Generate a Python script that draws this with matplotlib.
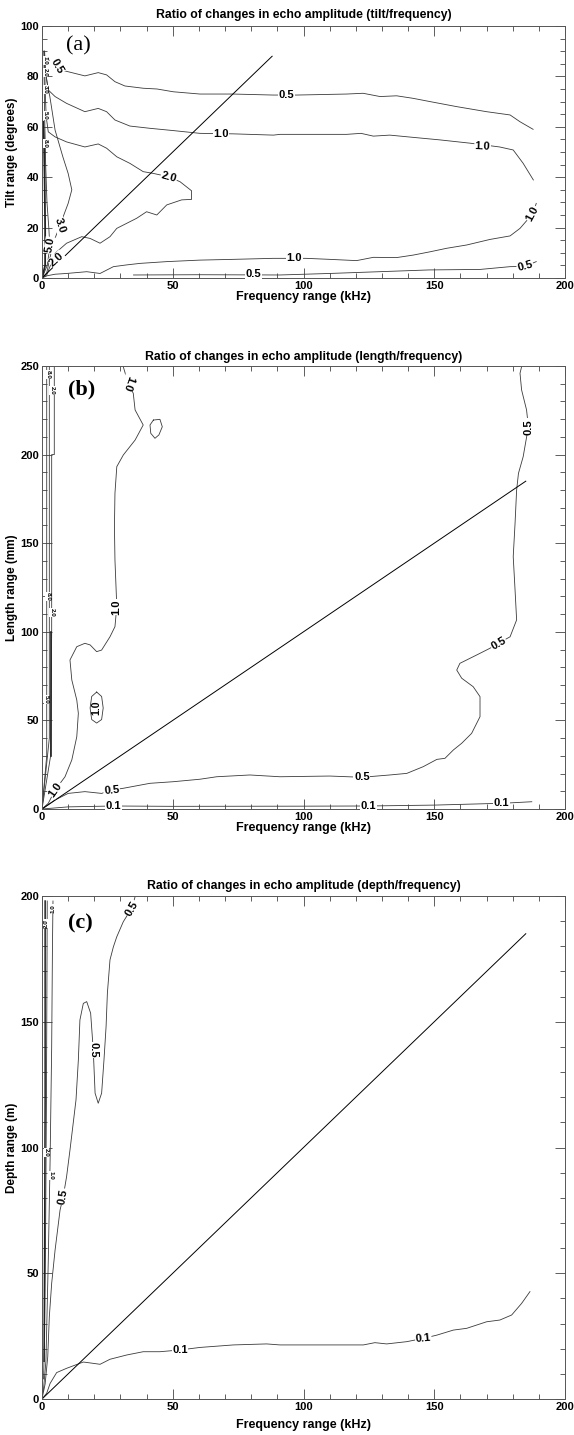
import matplotlib
matplotlib.use("Agg")
import matplotlib.pyplot as plt
from matplotlib.ticker import MultipleLocator

plt.rcParams['font.family'] = ['Liberation Sans', 'DejaVu Sans']

# ---------------- Panel (a): tilt / frequency ----------------
a_x05_up = [1.5, 3, 7.5, 16.4, 21.5, 24.7, 27.9, 31.7, 38.7, 44, 50.2, 60.4, 73.1, 88.4, 97.4, 116.5, 122.8, 129.3, 135.6, 141.9, 148.4, 158.6, 170, 179, 182.8, 187.8]
a_y05_up = [88, 86, 82.5, 80.2, 81.5, 80.6, 77.9, 76.2, 75.3, 75, 73.9, 73, 73, 72.6, 72.6, 73, 73.3, 72, 72.3, 71.3, 70, 68, 66, 64.7, 62, 59]
a_x10_up = [1.0, 1.3, 2.4, 5, 9.4, 16.4, 21.5, 24.7, 27.9, 33.6, 41.3, 50.2, 60.4, 73.2, 88.5, 91, 116.5, 122, 126.7, 133, 142, 152.2, 163.7, 175, 180.2, 184, 187.9]
a_y10_up = [90, 82, 74.6, 72, 69.3, 66, 67.3, 66, 62.7, 60.3, 59.4, 58.5, 57.4, 57.2, 56.7, 57, 57, 57.4, 56.3, 56.7, 55.8, 54.8, 53.5, 52, 50.8, 45.5, 38.9]
a_x20 = [0.9, 1.2, 1.6, 2.4, 5, 9.4, 16.4, 21.5, 24.7, 28.6, 33.6, 38.7, 42.6, 48.3, 52.8, 57.2, 57.2, 53.4, 47.7, 43.9, 40, 36.2, 32.4, 28.6, 26, 22.2, 18.4, 15.2, 9.4, 5, 1.8, 0]
a_y20 = [90, 75, 64, 58, 56, 54, 52, 53.2, 51.5, 48.1, 45.5, 42.2, 41.5, 40.2, 38.2, 34.6, 31.2, 31, 29, 25, 26.3, 23.7, 21.7, 19.7, 16.4, 13.8, 15.7, 16.4, 13.8, 9.8, 1.2, 0]
a_x30 = [0.8, 1.3, 2.2, 3, 5, 8, 10, 11.4, 10, 6.9, 4.3, 1.8, 0]
a_y30 = [90, 82, 76, 72, 58.7, 48, 41.5, 35, 29.6, 21, 13.9, 2, 0]
a_x50 = [0.7, 1.0, 1.4, 1.9, 2.6, 3.0, 2.0, 0]
a_y50 = [90, 65, 45, 30, 20, 12.4, 5, 0]
a_x80 = [0.5, 0.8, 1.0, 1.2, 1.2, 0]
a_y80 = [62, 53, 40, 20, 5, 0]
a_x10_lo = [0, 2, 5, 9.4, 17.1, 22.2, 27.3, 32.4, 37.5, 47.7, 60.4, 73.2, 88.5, 96, 101, 110, 120.3, 126.7, 135.6, 142, 148.4, 154.8, 162.4, 171.3, 179, 182.8, 187.8, 189]
a_y10_lo = [0, 0.9, 1.5, 1.8, 2.5, 1.8, 4.5, 5.2, 5.8, 6.5, 7.1, 7.4, 7.8, 7.8, 7.8, 7.4, 6.9, 8.2, 8.1, 9.1, 10.4, 11.8, 13.1, 15.3, 16.7, 19.7, 25.7, 29.6]
a_x05_lo = [35, 60, 91, 110, 129, 148, 167.5, 179, 184.7, 189]
a_y05_lo = [1.2, 1.3, 1.2, 1.8, 2.5, 3.2, 3.4, 4.5, 4.6, 6.5]
a_diag = [0, 88]

# ---------------- Panel (b): length / frequency ----------------
b_x10 = [31.1, 33, 34.9, 35.6, 38.7, 35.6, 31.1, 28.6, 27.9, 27.7, 27.9, 28.6, 27.9, 26, 22.8, 20.9, 18.4, 16.4, 13.3, 10.7, 11.4, 13.3, 13.9, 13.3, 11.4, 8.8, 5, 2.4, 0]
b_y10 = [249.5, 240, 234.6, 225.2, 216.7, 208.2, 199.8, 193.2, 178.2, 159.3, 140.5, 114.2, 102.9, 97.2, 89.7, 88.8, 92.6, 93.5, 91.6, 84.1, 72.8, 61.5, 54, 40.8, 27.7, 18.2, 10.7, 3.2, 0]
b_x10_loopA = [42.6, 45.1, 46, 44.7, 43.2, 41.6, 41.3, 42.6]
b_y10_loopA = [219.5, 219.9, 215.7, 211.1, 209.2, 212, 216.7, 219.5]
b_x10_loopB = [20.9, 22.8, 23.4, 22.8, 20.9, 19.0, 18.4, 19.0, 20.9]
b_y10_loopB = [66.0, 63.5, 57, 50.5, 48.5, 50.5, 57, 63.5, 66.0]
b_x05 = [0, 5, 10, 16.4, 22.8, 26.6, 31.1, 41.3, 50.2, 60.4, 66.8, 79.5, 91, 110, 122.3, 133, 139.5, 145.8, 151, 154.1, 157.3, 160.5, 164.3, 167.5, 167.5, 164.9, 160.5, 158.6, 159.8, 166.2, 171.3, 174.5, 179, 181.5, 180.9, 180.2, 180.9, 181.5, 182.2, 184, 186, 185.3, 183.4, 182.8, 183.4]
b_y05 = [0, 5.1, 8.8, 9.8, 8.8, 10.7, 11.7, 14.5, 15.4, 16.8, 18.2, 19.2, 18.2, 18.6, 17.9, 19.2, 20.1, 23.9, 28, 28.6, 33.3, 37.1, 42.7, 52.1, 63.4, 69, 73.8, 78.4, 82.2, 86.9, 90.7, 93.5, 97.2, 106.7, 123.6, 142.4, 161.2, 180, 189.4, 198.8, 215.7, 225.2, 236.5, 245.9, 249.6]
b_x01 = [0, 10, 27.3, 50, 100, 124.8, 150, 170, 175.8, 187.3]
b_y01 = [0, 1.2, 1.7, 1.5, 1.6, 1.7, 2.2, 3.0, 3.2, 4.1]
b_xedge1 = [0, 1.8, 1.8, 1.8]
b_yedge1 = [0, 30, 150, 250]
b_xedge2 = [0, 2.8, 2.8, 2.8]
b_yedge2 = [0, 40, 150, 250]
b_xedge3 = [0, 3.3, 3.7, 3.7, 4.7, 4.7]
b_yedge3 = [0, 30, 100, 200, 200, 250]
b_diag = [0, 185]

# ---------------- Panel (c): depth / frequency ----------------
c_x05 = [35.6, 34.3, 31.1, 28.6, 27.3, 26, 25, 24.5, 23.7, 22.8, 21.5, 20.3, 19.6, 18.6, 17.1, 15.8, 14.5, 13.9, 13, 10.7, 9.4, 8.1, 6.9, 5, 3.7, 2.8, 2.2, 1.2, 0]
c_y05 = [199.7, 195.1, 189.8, 183.8, 179.8, 174.6, 161.3, 148, 134.8, 121.6, 117.6, 121.6, 138.8, 153.4, 158, 157.3, 150.7, 134.8, 118.9, 99, 88.4, 80.4, 75.1, 59.2, 46, 32.7, 16.8, 6, 0]
c_x01 = [0, 1.8, 3.1, 5.6, 9.4, 15.8, 18, 22.2, 26, 32.4, 38.7, 45.1, 52.8, 60.4, 73.2, 85.9, 91, 110, 122.9, 127.3, 131.8, 139.5, 145.8, 151, 157.3, 162.4, 170, 175.1, 179.6, 183.4, 186.6]
c_y01 = [0, 2.3, 6.2, 10.5, 12.2, 14.7, 14.4, 13.8, 15.8, 17.5, 18.8, 18.8, 19.5, 20.5, 21.5, 21.9, 21.5, 21.5, 21.5, 22.4, 21.9, 22.8, 24.1, 25.4, 27.4, 28.1, 30.7, 31.4, 33.4, 38, 42.7]
c_x10 = [4.2, 4.0, 3.7, 3.1, 2.4, 1.5, 0.5]
c_y10 = [198, 180, 140, 95, 55, 15, 3]
c_x20 = [2.0, 1.9, 1.7, 1.4, 1.0, 0.6]
c_y20 = [198, 170, 120, 70, 25, 8]
c_x30 = [1.2, 1.2, 1.0, 0.8]
c_y30 = [198, 120, 60, 15]
c_diag = [0, 185]

# ---------------- figure ----------------
fig = plt.figure(figsize=(5.74, 14.35), dpi=100)
LC = '#3a3a3a'
LW = 0.6
lab_kw = dict(fontsize=8, fontweight='bold', ha='center', va='center',
              bbox=dict(boxstyle='square,pad=0.05', fc='white', ec='none'), zorder=5)
small_kw = dict(fontsize=4.5, fontweight='bold', ha='center', va='center',
                bbox=dict(boxstyle='square,pad=0.02', fc='white', ec='none'), zorder=5)


def style(ax, xlim, ylim, ymaj, ymin, ylabel, title, tpad):
    ax.set_xlim(*xlim)
    ax.set_ylim(*ylim)
    ax.xaxis.set_major_locator(MultipleLocator(50))
    ax.xaxis.set_minor_locator(MultipleLocator(10))
    ax.yaxis.set_major_locator(MultipleLocator(ymaj))
    ax.yaxis.set_minor_locator(MultipleLocator(ymin))
    ax.tick_params(which='both', direction='in', top=True, right=True,
                   labelsize=8, width=0.6, color='#444', pad=2)
    ax.tick_params(which='major', length=7)
    ax.tick_params(which='minor', length=3.5)
    for lab in ax.get_xticklabels() + ax.get_yticklabels():
        lab.set_fontweight('bold')
    for s in ax.spines.values():
        s.set_linewidth(0.7)
        s.set_color('#555')
    ax.set_xlabel('Frequency range (kHz)', fontsize=9, fontweight='bold', labelpad=0)
    ax.set_ylabel(ylabel, fontsize=8.5, fontweight='bold', labelpad=2)
    ax.set_title(title, fontsize=8.8, fontweight='bold', pad=tpad)


L = 42 / 574
W = (565 - 42) / 574

# Panel a
axa = fig.add_axes([L, 1 - 278 / 1435, W, (278 - 26) / 1435])
for xs, ys in [(a_x05_up, a_y05_up), (a_x10_up, a_y10_up), (a_x20, a_y20), (a_x30, a_y30),
               (a_x50, a_y50), (a_x10_lo, a_y10_lo), (a_x05_lo, a_y05_lo)]:
    axa.plot(xs, ys, color=LC, lw=LW)
axa.plot(a_x80, a_y80, color='#222', lw=1.3)
axa.plot(a_diag, a_diag, color='black', lw=0.7)
for t, x, y, r in [('0.5', 5.8, 84.2, -60), ('0.5', 93.5, 72.6, 0), ('1.0', 68.5, 57.2, 0),
                   ('1.0', 168.5, 52.4, -3), ('2.0', 48.5, 40.0, -15), ('3.0', 6.9, 21.0, -72),
                   ('2.0', 5.6, 7.5, 42), ('5.0', 3.0, 13.0, 80), ('1.0', 96.5, 7.8, 0),
                   ('1.0', 187.5, 25.5, 62), ('0.5', 80.8, 1.4, 0), ('0.5', 184.7, 4.8, 15)]:
    axa.text(x, y, t, rotation=r, **lab_kw)
for t, y in [('1.0', 86.5), ('2.0', 81.5), ('3.0', 75), ('5.0', 64.5), ('8.0', 53.5)]:
    axa.text(1.2, y, t, rotation=-90, **small_kw)
axa.text(14.0, 92.3, '(a)', fontsize=16, family='Liberation Serif', ha='center', va='center')
style(axa, (0, 200), (0, 100), 20, 5, 'Tilt range (degrees)',
      'Ratio of changes in echo amplitude (tilt/frequency)', 6)

# Panel b
axb = fig.add_axes([L, 1 - 809 / 1435, W, (809 - 366) / 1435])
for xs, ys in [(b_x10, b_y10), (b_x10_loopA, b_y10_loopA), (b_x10_loopB, b_y10_loopB),
               (b_x05, b_y05), (b_x01, b_y01), (b_xedge1, b_yedge1), (b_xedge2, b_yedge2),
               (b_xedge3, b_yedge3)]:
    axb.plot(xs, ys, color=LC, lw=LW)
axb.plot([3.3, 3.3], [30, 100], color='#222', lw=1.2)
axb.plot(b_diag, b_diag, color='black', lw=0.7)
for t, x, y, r in [('1.0', 33.0, 240.5, -110), ('1.0', 28.4, 114.0, 90),
                   ('1.0', 5.2, 11.0, 55), ('0.5', 26.6, 10.7, 5), ('0.5', 122.3, 17.9, 0),
                   ('0.5', 174.5, 93.5, 30), ('0.5', 186.0, 215.7, 90), ('0.1', 27.3, 1.7, 0),
                   ('0.1', 124.8, 1.7, 0), ('0.1', 175.8, 3.2, 0)]:
    axb.text(x, y, t, rotation=r, **lab_kw)
axb.text(20.9, 57.0, '1.0', rotation=90, fontsize=7.5, fontweight='bold',
         ha='center', va='center', zorder=5)
for t, x, y in [('8.0', 2.3, 245), ('2.0', 3.8, 236), ('8.0', 2.3, 120), ('2.0', 3.8, 111),
                ('5.0', 1.8, 62)]:
    axb.text(x, y, t, rotation=-90, **small_kw)
axb.text(15.0, 236.5, '(b)', fontsize=16, fontweight='bold', family='Liberation Serif',
         ha='center', va='center')
style(axb, (0, 200), (0, 250), 50, 10, 'Length range (mm)',
      'Ratio of changes in echo amplitude (length/frequency)', 4)

# Panel c
axc = fig.add_axes([L, 1 - 1399 / 1435, W, (1399 - 896) / 1435])
for xs, ys in [(c_x05, c_y05), (c_x01, c_y01), (c_x10, c_y10), (c_x20, c_y20)]:
    axc.plot(xs, ys, color=LC, lw=LW)
axc.plot(c_x30, c_y30, color='#222', lw=1.1)
axc.plot(c_diag, c_diag, color='black', lw=0.7)
for t, x, y, r in [('0.5', 34.3, 195.1, 60), ('0.5', 19.6, 138.8, -90), ('0.5', 8.1, 80.4, 80),
                   ('0.1', 52.8, 19.5, 0), ('0.1', 145.8, 24.1, 5)]:
    axc.text(x, y, t, rotation=r, **lab_kw)
for t, x, y, r in [('2.0', 1.8, 189, 90), ('1.0', 4.3, 195, 90), ('2.0', 1.6, 98, -90),
                   ('1.0', 3.3, 89, -90)]:
    axc.text(x, y, t, rotation=r, **small_kw)
axc.text(14.5, 189, '(c)', fontsize=16, fontweight='bold', family='Liberation Serif',
         ha='center', va='center')
style(axc, (0, 200), (0, 200), 50, 10, 'Depth range (m)',
      'Ratio of changes in echo amplitude (depth/frequency)', 5)
axc.xaxis.labelpad = 5

fig.savefig('out.png', dpi=100)
